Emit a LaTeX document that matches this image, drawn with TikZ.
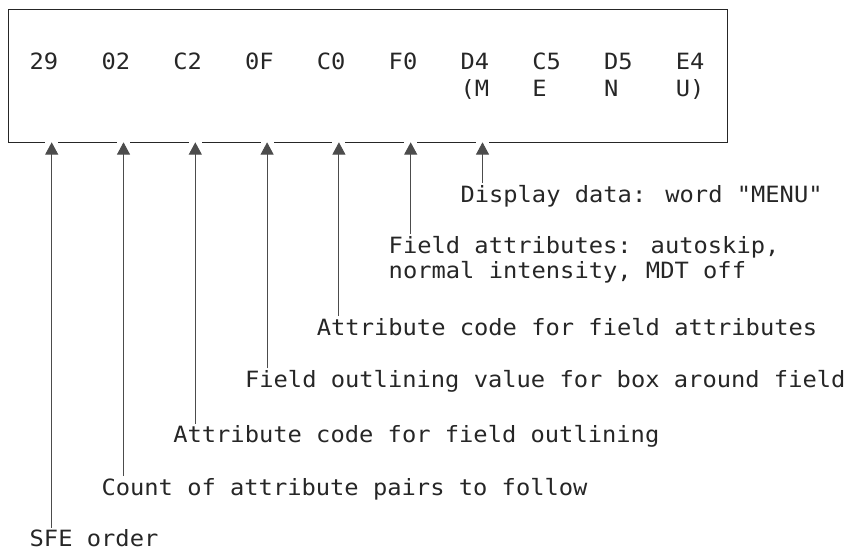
\documentclass[tikz,border=0pt]{standalone}
\usepackage{fontspec}
\newfontfamily\monof[FakeStretch=1.06]{DejaVu Sans Mono}
\usetikzlibrary{arrows.meta,calc}
\begin{document}
\begin{tikzpicture}[x=1pt,y=-1pt,
  txt/.style={inner sep=0pt, outer sep=0pt, anchor=base west,
    font=\monof\fontsize{22.4}{25}\selectfont, text=black!85},
  lbl/.style={txt, text height=19pt},
  frame/.style={draw=black!85, line width=1.1pt, inner sep=0pt},
  pointer/.style={draw=black!70, line width=0.9pt,
    -{Triangle[width=13pt,length=12.3pt]}}]
\useasboundingbox (0,0) rectangle (853,550);
\node[frame, anchor=north west, minimum width=719pt, minimum height=133pt] (box) at (8.3,9.3) {};
% hex values
\foreach \i/\t in {0/29,1/02,2/C2,3/0F,4/C0,5/F0,6/D4,7/C5,8/D5,9/E4}
  \node[txt] (h\i) at ({29.7+71.8*\i},69.5) {\t};
\foreach \i/\t in {6/(M,7/E,8/N,9/U)}
  \node[txt] (m\i) at ({29.7+71.8*\i},96.7) {\t};
% labels
\node[lbl] (l0) at ({29.7+71.8*0},546.7) {SFE order};
\node[lbl] (l1) at ({29.7+71.8*1},495) {Count of attribute pairs to follow};
\node[lbl] (l2) at ({29.7+71.8*2},442.7) {Attribute code for field outlining};
\node[lbl] (l3) at ({29.7+71.8*3},387.3) {Field outlining value for box around field};
\node[lbl] (l4) at ({29.7+71.8*4},335) {Attribute code for field attributes};
\node[lbl] (l5) at ({29.7+71.8*5},253.3) {Field attributes: autoskip,};
\node[txt] (l5b) at ({29.7+71.8*5},278.3) {normal intensity, MDT off};
\node[lbl] (l6) at ({29.7+71.8*6},202.2) {Display data: word "MENU"};
% pointers
\foreach \i in {0,...,6}{
  \coordinate (a\i) at ({51.7+71.8*\i},142.3);
  \fill[white] ($(a\i)+(-6.5,-2.5)$) rectangle ($(a\i)+(6.5,2.5)$);
  \draw[pointer] (l\i.north -| a\i) -- (a\i);
}
\end{tikzpicture}
\end{document}
